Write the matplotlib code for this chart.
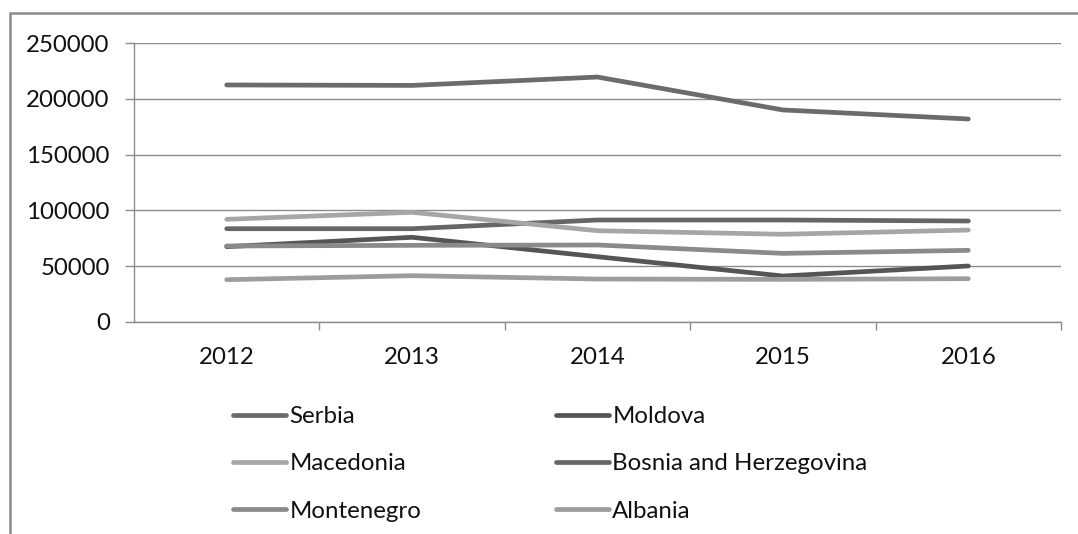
import matplotlib.pyplot as plt
from matplotlib.patches import Rectangle
from matplotlib.ticker import FixedLocator, MultipleLocator

years = ["2012", "2013", "2014", "2015", "2016"]
serbia = [212400, 212000, 219500, 190000, 181900]
moldova = [67500, 75900, 58500, 41200, 50200]
macedonia = [92000, 98300, 81800, 78600, 82400]
bosnia = [83600, 83600, 91400, 91400, 90500]
montenegro = [68100, 68700, 69000, 61500, 64200]
albania = [37900, 41500, 38500, 38200, 38800]

# legend fills column by column, so order is col1 then col2
series = [
    ("Serbia", serbia, "#6b6b6b"),
    ("Macedonia", macedonia, "#a6a6a6"),
    ("Montenegro", montenegro, "#8a8a8a"),
    ("Moldova", moldova, "#555555"),
    ("Bosnia and Herzegovina", bosnia, "#666666"),
    ("Albania", albania, "#9d9d9d"),
]

plt.rcParams["font.family"] = ["Lato", "DejaVu Sans"]
grid_col = "#8c8c8c"
text_col = "#111111"
fsize = 17.3
W, H = 1078, 534

fig = plt.figure(figsize=(W / 100, H / 100), dpi=100)
ax = fig.add_axes([134 / W, 1 - 322 / H, (1061 - 134) / W, (322 - 43) / H])

x = range(len(years))
draw_order = [0, 3, 4, 1, 2, 5]
for i in draw_order:
    name, vals, col = series[i]
    ax.plot(x, vals, color=col, lw=3.4, solid_capstyle="round", label=name, zorder=3)

ax.set_xlim(-0.5, len(years) - 0.5)
ax.set_ylim(0, 250000)
ax.yaxis.set_major_locator(MultipleLocator(50000))
ax.grid(axis="y", color=grid_col, lw=1)
ax.set_axisbelow(True)

ax.set_xticks(list(x))
ax.set_xticklabels(years)
ax.xaxis.set_minor_locator(FixedLocator([k + 0.5 for k in x]))
ax.tick_params(axis="x", which="major", length=0, pad=18, labelsize=fsize, colors=text_col)
ax.tick_params(axis="x", which="minor", length=6, width=1, color=grid_col)
ax.tick_params(axis="y", length=6.5, width=1, color=grid_col, pad=11, labelsize=fsize, labelcolor=text_col)

for s in ["top", "right"]:
    ax.spines[s].set_visible(False)
for s in ["left", "bottom"]:
    ax.spines[s].set_color(grid_col)
    ax.spines[s].set_linewidth(1)

handles, labels = ax.get_legend_handles_labels()
order = [labels.index(s[0]) for s in series]
leg = fig.legend([handles[k] for k in order], [labels[k] for k in order],
                 loc="upper left", bbox_to_anchor=(233 / W, 1 - 406 / H),
                 ncol=2, frameon=False, fontsize=fsize, borderpad=0,
                 handlelength=2.2, handletextpad=0.15, columnspacing=5.6,
                 labelspacing=1.1, borderaxespad=0)
for t in leg.get_texts():
    t.set_color(text_col)

# outer chart frame (right and bottom edges cut off)
fig.patches.append(Rectangle((10 / W, -0.1), 1.2, 1 - 13 / H + 0.1,
                             transform=fig.transFigure, fill=False,
                             edgecolor="#8a8a8a", lw=1.8, clip_on=False))

fig.savefig("out.png", dpi=100)
